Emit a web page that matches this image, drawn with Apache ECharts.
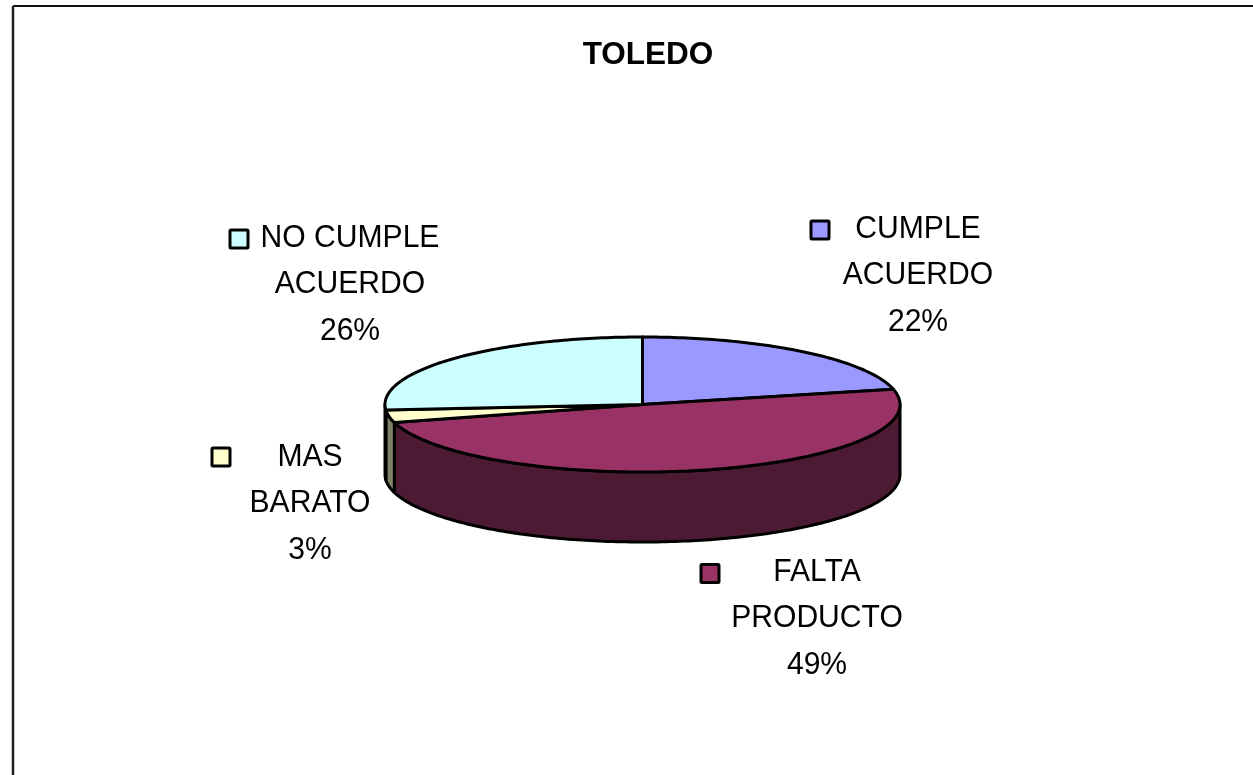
<!DOCTYPE html>
<html>
<head>
<meta charset="utf-8">
<style>html,body{margin:0;padding:0;background:#fff}#c{width:1253px;height:775px}</style>
<script src="https://cdn.jsdelivr.net/npm/echarts@6/dist/echarts.min.js"></script>
</head>
<body>
<div id="c"></div>
<script>
const chartTitle = "TOLEDO";
const categories = ["CUMPLE\nACUERDO", "FALTA\nPRODUCTO", "MAS\nBARATO", "NO CUMPLE\nACUERDO"];
const values = [21.4, 49.3, 3.0, 26.3];
const percentLabels = ["22%", "49%", "3%", "26%"];
const topColors = ["#9999ff", "#993366", "#ffffcc", "#ccffff"];
const sideColors = ["#4d4d80", "#4d1a33", "#808066", "#668080"];

const pie = { cx: 642.5, cy: 404.5, rx: 257.5, ry: 67.5, depth: 70 };
const labelPos = [
  { x: 918, y: 275.5, kx: 820, ky: 230 },
  { x: 817, y: 618.5, kx: 710, ky: 573.5 },
  { x: 310, y: 503.5, kx: 221, ky: 457 },
  { x: 350, y: 284.5, kx: 239, ky: 239 }
];
const total = values.reduce((a, b) => a + b, 0);
const pt = (deg, dy) => {
  const r = deg * Math.PI / 180;
  return [pie.cx + pie.rx * Math.sin(r), pie.cy - pie.ry * Math.cos(r) + (dy || 0)];
};
const arc = (a, b, dy) => {
  const out = [];
  const n = Math.max(2, Math.ceil(Math.abs(b - a)));
  for (let i = 0; i <= n; i++) out.push(pt(a + (b - a) * i / n, dy));
  return out;
};
function renderSlice(params, api) {
  const i = params.dataIndex;
  let before = 0;
  for (let k = 0; k < i; k++) before += values[k];
  const a0 = before / total * 360;
  const a1 = (before + api.value(0)) / total * 360;
  const line = { stroke: "#000", lineWidth: 3, lineJoin: "round" };
  const children = [];
  const s0 = Math.max(a0, 90), s1 = Math.min(a1, 270);
  if (s1 > s0) {
    const upper = arc(s0, s1, 0);
    const lower = arc(s1, s0, pie.depth);
    children.push({
      type: "polygon", z2: 1,
      shape: { points: upper.concat(lower) },
      style: Object.assign({ fill: sideColors[i] }, line)
    });
  }
  children.push({
    type: "polygon", z2: 2 + i,
    shape: { points: [[pie.cx, pie.cy]].concat(arc(a0, a1, 0)) },
    style: Object.assign({ fill: topColors[i] }, line)
  });
  const p = labelPos[i];
  children.push({
    type: "rect", z2: 20,
    shape: { x: p.kx - 9, y: p.ky - 9, width: 18, height: 18, r: 1 },
    style: Object.assign({ fill: topColors[i] }, line)
  });
  children.push({
    type: "text", z2: 21, x: p.x, y: p.y, scaleX: 0.94,
    style: {
      text: categories[i] + "\n" + percentLabels[i],
      font: '32px "Liberation Sans", Arial, sans-serif',
      lineHeight: 46.5, align: "center", verticalAlign: "middle", fill: "#000"
    }
  });
  return { type: "group", children };
}
const chart = echarts.init(document.getElementById("c"), null, { renderer: "canvas" });
chart.setOption({
  animation: false,
  backgroundColor: "#ffffff",
  title: {
    text: chartTitle, left: 643, top: 34, textAlign: "center",
    textStyle: { fontFamily: '"Liberation Sans", Arial, sans-serif', fontSize: 31.5, fontWeight: "bold", color: "#000" }
  },
  graphic: [
    { type: "line", z: 0, shape: { x1: 13, y1: 6, x2: 1253, y2: 6 }, style: { stroke: "#111", lineWidth: 2 } },
    { type: "line", z: 0, shape: { x1: 13, y1: 6, x2: 13, y2: 775 }, style: { stroke: "#222", lineWidth: 2.5 } }
  ],
  series: [{
    type: "custom",
    coordinateSystem: "none",
    renderItem: renderSlice,
    data: values.map(v => [v])
  }]
});
</script>
</body>
</html>
